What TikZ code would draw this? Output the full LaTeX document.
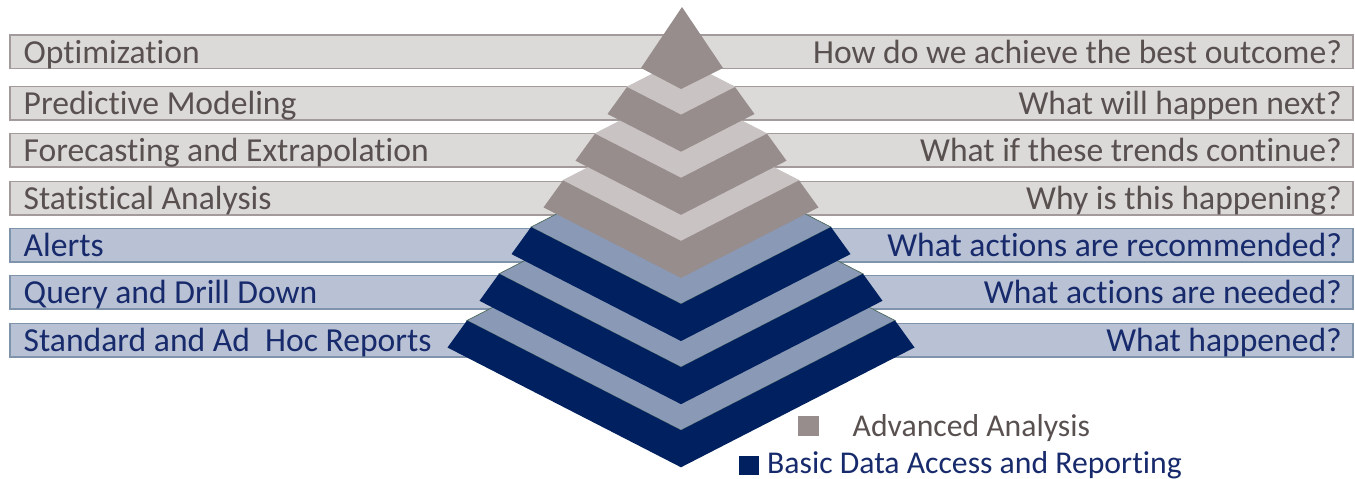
\documentclass[tikz,border=0pt]{standalone}
\usepackage{fontspec}
\setmainfont{Carlito}[Ligatures=NoCommon]
\definecolor{barG}{HTML}{DCDAD9}
\definecolor{barGb}{HTML}{A39B9B}
\definecolor{barB}{HTML}{B9C1D5}
\definecolor{barBb}{HTML}{7F93AB}
\definecolor{txtG}{HTML}{595050}
\definecolor{txtB}{HTML}{172A6B}
\definecolor{pyrDG}{HTML}{978D8C}
\definecolor{pyrLG}{HTML}{C9C4C3}
\definecolor{pyrNV}{HTML}{00205F}
\definecolor{pyrLB}{HTML}{8A99B6}
\definecolor{edgeB}{HTML}{4E6B5C}
\tikzset{
  grayrow/.style={fill=barG, draw=barGb, line width=1.5pt},
  bluerow/.style={fill=barB, draw=barBb, line width=1.5pt},
  lbl/.style={inner sep=0pt, font=\fontsize{33.6}{36}\selectfont},
  lgd/.style={inner sep=0pt, font=\fontsize{31.7}{34}\selectfont},
  lsq/.style={inner sep=0pt, minimum width=21pt, minimum height=20pt},
}
\begin{document}
\begin{tikzpicture}[x=1pt,y=-1pt]
\useasboundingbox (0,0) rectangle (1355,479);
% bars
\foreach \t in {35,86.5,133.5,181.5}{
  \draw[grayrow] (10,\t) rectangle (1353,\t+33.5);
}
\foreach \t in {228.5,275.5,323.5}{
  \draw[bluerow] (10,\t) rectangle (1353,\t+33.5);
}
% left labels
\node[lbl, anchor=base west, text=txtG] (l1) at (23.5,63.5) {Optimization};
\node[lbl, anchor=base west, text=txtG] (l2) at (23.5,114) {Predictive Modeling};
\node[lbl, anchor=base west, text=txtG] (l3) at (23.5,161.5) {Forecasting and Extrapolation};
\node[lbl, anchor=base west, text=txtG] (l4) at (23.5,209) {Statistical Analysis};
\node[lbl, anchor=base west, text=txtB] (l5) at (23.5,256.5) {Alerts};
\node[lbl, anchor=base west, text=txtB] (l6) at (23.5,303.5) {Query and Drill Down};
\node[lbl, anchor=base west, text=txtB] (l7) at (23.5,351) {Standard and Ad~\ Hoc Reports};
% right labels
\node[lbl, anchor=base east, text=txtG] (r1) at (1342,63.5) {How do we achieve the best outcome?};
\node[lbl, anchor=base east, text=txtG] (r2) at (1342,114) {What will happen next?};
\node[lbl, anchor=base east, text=txtG] (r3) at (1342,161.5) {What if these trends continue?};
\node[lbl, anchor=base east, text=txtG] (r4) at (1342,209) {Why is this happening?};
\node[lbl, anchor=base east, text=txtB] (r5) at (1342,256.5) {What actions are recommended?};
\node[lbl, anchor=base east, text=txtB] (r6) at (1342,303.5) {What actions are needed?};
\node[lbl, anchor=base east, text=txtB] (r7) at (1342,351) {What happened?};
% pyramid layers, bottom first
\foreach \n in {7,6,5,4,3,2}{
  \pgfmathsetmacro\hwL{54+32*(\n-2)}
  \pgfmathsetmacro\yL{87+46.7*(\n-2)}
  \pgfmathsetmacro\hwB{\hwL+19.5}
  \pgfmathsetmacro\yB{\yL+27}
  \ifnum\n>4 \def\lc{pyrLB}\def\dc{pyrNV}\def\ec{edgeB}\else\def\lc{pyrLG}\def\dc{pyrDG}\def\ec{pyrLG}\fi
  \filldraw[fill=\lc, draw=\ec, line width=0.7pt]
    (681,{\yL-0.513*\hwL}) -- ({681+\hwL},\yL) -- (681,{\yL+0.513*\hwL}) -- ({681-\hwL},\yL) -- cycle;
  \fill[\dc] ({681-\hwL},\yL) -- (681,{\yL+0.513*\hwL}) -- ({681+\hwL},\yL)
    -- ({681+\hwB},\yB) -- (681,{\yB+0.513*\hwB}) -- ({681-\hwB},\yB) -- cycle;
}
\fill[pyrDG] (682,7) -- (723,68) -- (681,89) -- (641,68) -- cycle;
% legend
\node[lsq, fill=pyrDG] (sqA) at (808,426) {};
\node[lgd, anchor=base west, text=txtG] (lgA) at (852.5,436.5) {Advanced Analysis};
\node[lsq, fill=pyrNV, minimum width=20pt, minimum height=19pt] (sqB) at (749,465) {};
\node[lgd, anchor=base west, text=txtB] (lgB) at (767,473.5) {Basic Data Access and Reporting};
\end{tikzpicture}
\end{document}
